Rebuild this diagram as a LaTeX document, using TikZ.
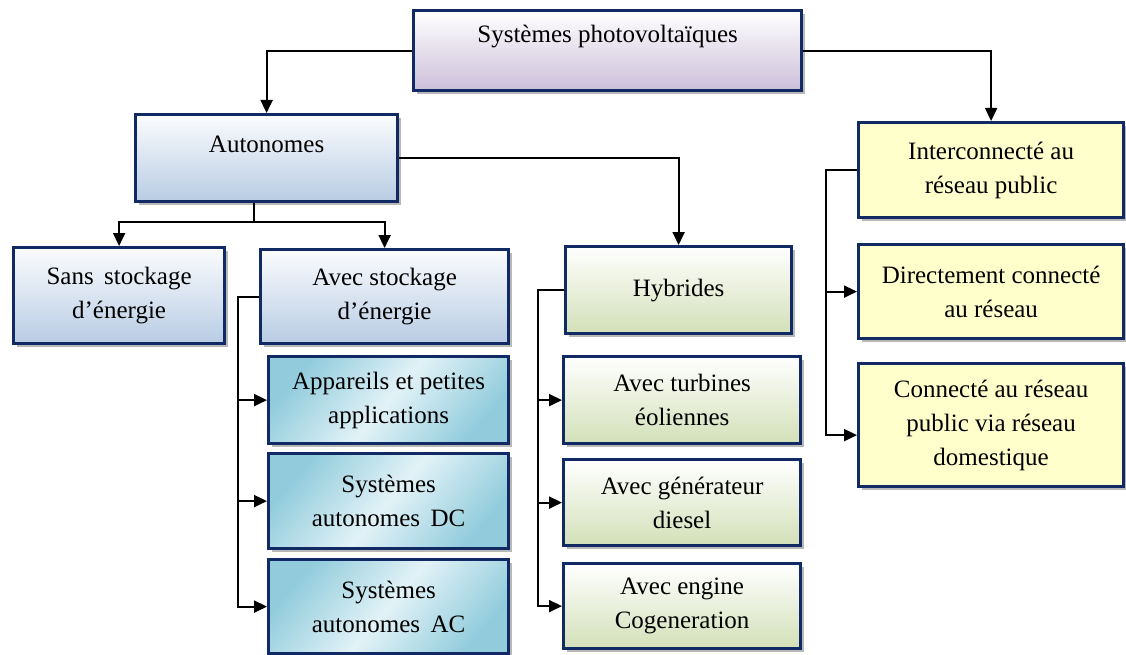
\documentclass[tikz,border=0pt]{standalone}
\usepackage{fontspec}
\setmainfont{Liberation Serif}
\usetikzlibrary{shadows,arrows.meta,calc}
\definecolor{navy}{HTML}{122A64}
\definecolor{lav}{HTML}{CBBFD9}
\definecolor{lblue}{HTML}{B8CCE4}
\definecolor{teal1}{HTML}{92CCDC}
\definecolor{teal2}{HTML}{E2F2F7}
\definecolor{lgreen}{HTML}{D3E0B8}
\definecolor{lyellow}{HTML}{FFFFCC}
\tikzset{
  box/.style={draw=navy, line width=3.2pt, align=center, inner sep=0pt,
    font=\fontsize{25}{34}\selectfont,
    drop shadow={shadow xshift=3pt, shadow yshift=-3pt, fill=gray!70, opacity=0.8}},
  lavbox/.style={box, top color=white, bottom color=lav},
  bluebox/.style={box, top color=white!94!lblue, bottom color=lblue},
  tealbox/.style={box, top color=teal1, bottom color=teal1, middle color=teal2, shading angle=50},
  greenbox/.style={box, top color=white, bottom color=lgreen},
  yelbox/.style={box, fill=lyellow},
  conn/.style={line width=2pt, -{Triangle[length=13pt,width=12pt]}},
  plain/.style={line width=2pt},
  lbl/.style={font=\fontsize{25}{34}\selectfont, inner sep=0pt}
}
\begin{document}
\begin{tikzpicture}[x=1pt,y=-1pt]
\useasboundingbox (0,0) rectangle (1126,655);
% boxes
\node[lavbox, anchor=north west, minimum width=388pt, minimum height=80pt,
  label={[lbl,name=topT,yshift=14pt]center:Systèmes photovoltaïques}] (top) at (412,9) {};
\node[bluebox, anchor=north west, minimum width=262pt, minimum height=87pt,
  label={[lbl,name=autoT,yshift=14pt]center:Autonomes}] (auto) at (134,113) {};
\node[bluebox, anchor=north west, minimum width=211pt, minimum height=96pt] (sans) at (12,246) {Sans\, stockage\\d'énergie};
\node[bluebox, anchor=north west, minimum width=248pt, minimum height=94pt] (avec) at (259,248) {Avec stockage\\d'énergie};
\node[tealbox, anchor=north west, minimum width=240pt, minimum height=87pt] (app) at (267,355) {Appareils et petites\\applications};
\node[tealbox, anchor=north west, minimum width=240pt, minimum height=95pt] (dc) at (267,452) {Systèmes\\autonomes\, DC};
\node[tealbox, anchor=north west, minimum width=240pt, minimum height=94pt] (ac) at (267,558) {Systèmes\\autonomes\, AC};
\node[greenbox, anchor=north west, minimum width=226pt, minimum height=87pt] (hyb) at (564,245) {Hybrides};
\node[greenbox, anchor=north west, minimum width=237pt, minimum height=87pt] (turb) at (562,355) {Avec turbines\\éoliennes};
\node[greenbox, anchor=north west, minimum width=237pt, minimum height=86pt] (dies) at (562,458) {Avec générateur\\diesel};
\node[greenbox, anchor=north west, minimum width=237pt, minimum height=85pt] (cog) at (562,562) {Avec engine\\Cogeneration};
\node[yelbox, anchor=north west, minimum width=265pt, minimum height=95pt] (inter) at (857,121) {Interconnecté au\\réseau public};
\node[yelbox, anchor=north west, minimum width=265pt, minimum height=94pt] (dir) at (857,243) {Directement connecté\\au réseau};
\node[yelbox, anchor=north west, minimum width=265pt, minimum height=123pt] (con) at (857,362) {Connecté au réseau\\public via réseau\\domestique};
% connectors
\draw[conn] (top.west) -| (auto.north);
\draw[conn] (top.east) -| (inter.north);
\draw[conn] (auto.east) -| (hyb.north);
\coordinate (split) at (254,222);
\draw[plain] (auto.south -| split) -- (split);
\draw[conn] (split) -| (sans.north);
\draw[conn] (split) -| (avec.north);
\coordinate (vl) at (238,0);
\draw[conn] (avec.west) -| (vl |- ac.west) -- (ac.west);
\draw[conn] (vl |- app.west) -- (app.west);
\draw[conn] (vl |- dc.west) -- (dc.west);
\coordinate (vh) at (538,0);
\draw[conn] (hyb.west) -| (vh |- cog.west) -- (cog.west);
\draw[conn] (vh |- turb.west) -- (turb.west);
\draw[conn] (vh |- dies.west) -- (dies.west);
\coordinate (vr) at (826,0);
\coordinate (conIn) at ($(con.west)+(0,10)$);
\draw[conn] (inter.west) -| (vr |- conIn) -- (conIn);
\draw[conn] (vr |- dir.west) -- (dir.west);
\end{tikzpicture}
\end{document}
